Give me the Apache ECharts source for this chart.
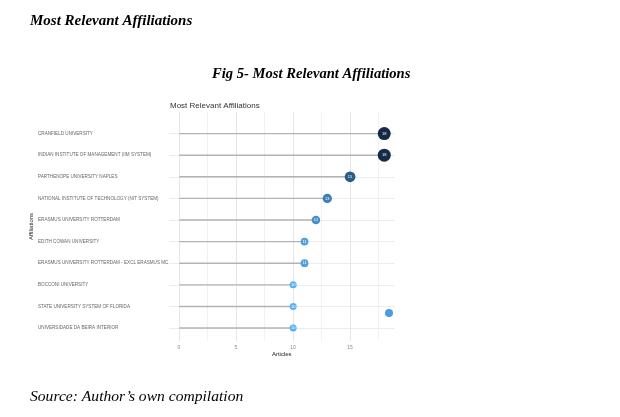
<!DOCTYPE html>
<html><head><meta charset="utf-8">
<script src="https://cdn.jsdelivr.net/npm/echarts@6/dist/echarts.min.js"></script>
<style>html,body{margin:0;padding:0;background:#fff}#c{width:620px;height:417px}</style>
</head><body><div id="c"></div>
<script>
const categories = [
  'CRANFIELD UNIVERSITY',
  'INDIAN INSTITUTE OF MANAGEMENT (IIM SYSTEM)',
  'PARTHENOPE UNIVERSITY NAPLES',
  'NATIONAL INSTITUTE OF TECHNOLOGY (NIT SYSTEM)',
  'ERASMUS UNIVERSITY ROTTERDAM',
  'EDITH COWAN UNIVERSITY',
  'ERASMUS UNIVERSITY ROTTERDAM - EXCL ERASMUS MC',
  'BOCCONI UNIVERSITY',
  'STATE UNIVERSITY SYSTEM OF FLORIDA',
  'UNIVERSIDADE DA BEIRA INTERIOR'
];
const articles = [18, 18, 15, 13, 12, 11, 11, 10, 10, 10];
const xTicks = [0, 5, 10, 15];

const points = articles.map((v, i) => [v, i]);
const chart = echarts.init(document.getElementById('c'));
const serif = 'Liberation Serif';
chart.setOption({
  backgroundColor: '#fff',
  animation: false,
  title: [
    {text: 'Most Relevant Affiliations', left: 30, top: 14, padding: 0,
     textStyle: {fontFamily: serif, fontSize: 15, fontWeight: 'bold', fontStyle: 'italic', color: '#000'}},
    {text: 'Fig 5- Most Relevant Affiliations', left: 212, top: 67, padding: 0,
     textStyle: {fontFamily: serif, fontSize: 14.6, fontWeight: 'bold', fontStyle: 'italic', color: '#000'}},
    {text: 'Most Relevant Affiliations', left: 170, top: 102, padding: 0,
     textStyle: {fontFamily: 'Liberation Sans', fontSize: 8, fontWeight: 'normal', color: '#333'}},
    {text: 'Source: Author\u2019s own compilation', left: 30, top: 389, padding: 0,
     textStyle: {fontFamily: serif, fontSize: 15.6, fontWeight: 'normal', fontStyle: 'italic', color: '#000'}}
  ],
  legend: {
    data: ['n'], left: 385, top: 309, padding: 0, icon: 'circle', itemWidth: 8, itemHeight: 8,
    formatter: () => '', itemStyle: {color: '#4a9be0', opacity: 1}
  },
  visualMap: {
    show: false, type: 'continuous', dimension: 0, min: 10, max: 18, seriesIndex: 1,
    inRange: {color: ['#56B1F7', '#132B43']}
  },
  grid: [
    {left: 169, right: 225.5, top: 112, bottom: 76},
    {left: 179, right: 241.5, top: 112, bottom: 76}
  ],
  xAxis: [
    {gridIndex: 0, type: 'value', min: -0.9, max: 18.9, axisLabel: {show: false}, axisLine: {show: false},
     axisTick: {show: false}, splitLine: {show: false},
     name: 'Articles', nameLocation: 'middle', nameGap: 10,
     nameTextStyle: {fontSize: 6, color: '#222', fontFamily: 'Liberation Sans'}},
    {gridIndex: 1, type: 'value', min: 0, max: 17.5, interval: 2.5,
     axisLine: {show: false}, axisTick: {show: false},
     axisLabel: {fontSize: 5, color: '#888', margin: 4, interval: 0,
       formatter: v => xTicks.indexOf(v) >= 0 ? String(v) : ''},
     splitLine: {show: true, lineStyle: {width: 1, color: ['#e6e6e6', '#f2f2f2']}}}
  ],
  yAxis: [
    {gridIndex: 0, type: 'value', inverse: true, min: -1, max: 9.6, interval: 1,
     axisLine: {show: false}, axisTick: {show: false},
     axisLabel: {align: 'left', margin: 131, fontSize: 4.6, color: '#666', fontFamily: 'Liberation Sans',
       formatter: v => (v >= 0 && v < categories.length) ? categories[v] : ''},
     splitLine: {show: true, lineStyle: {width: 1,
       color: ['rgba(0,0,0,0)', '#ececec', '#ececec', '#ececec', '#ececec', '#ececec', '#ececec', '#ececec', '#ececec', '#ececec', '#ececec']}},
     name: 'Affiliations', nameLocation: 'middle', nameGap: 134, nameRotate: 90,
     nameTextStyle: {fontSize: 6, color: '#222', fontFamily: 'Liberation Sans'}},
    {gridIndex: 1, type: 'value', min: 0, max: 1, show: false}
  ],
  series: [
    {type: 'custom', xAxisIndex: 0, yAxisIndex: 0, data: points, z: 2,
     renderItem: (params, api) => {
       const a = api.coord([0, api.value(1)]);
       const b = api.coord([api.value(0), api.value(1)]);
       return {type: 'line', shape: {x1: a[0], y1: a[1], x2: b[0], y2: b[1]},
               style: {stroke: '#b3b3b3', lineWidth: 1.4}};
     }},
    {type: 'scatter', name: 'n', xAxisIndex: 0, yAxisIndex: 0, data: points, z: 3,
     itemStyle: {opacity: 1},
     symbolSize: v => 7 + (v[0] - 10) * 0.75,
     label: {show: true, position: 'inside', fontSize: 4, color: '#fff', formatter: p => p.value[0]}},
    {type: 'scatter', xAxisIndex: 1, yAxisIndex: 1, data: [], silent: true}
  ]
});
</script></body></html>
